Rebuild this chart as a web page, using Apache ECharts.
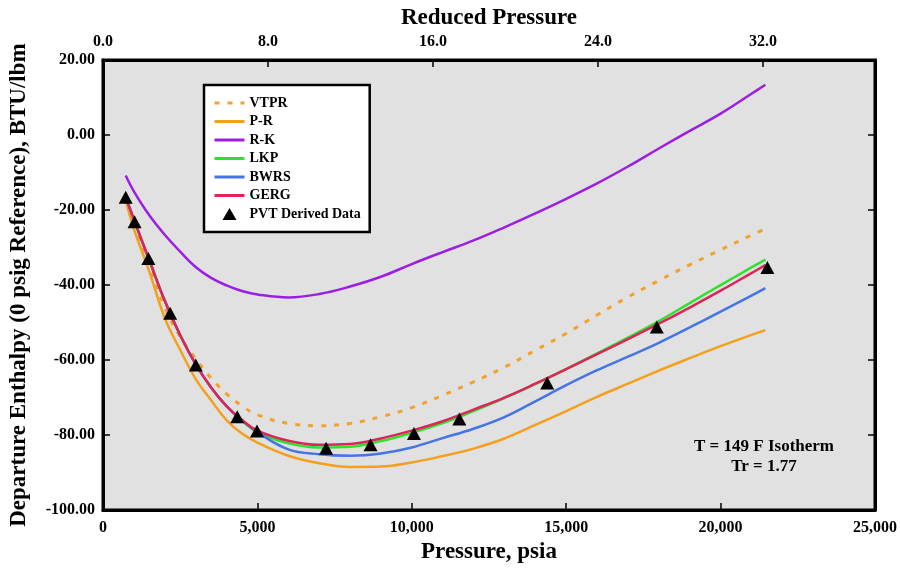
<!DOCTYPE html>
<html>
<head>
<meta charset="utf-8">
<script src="https://cdn.jsdelivr.net/npm/echarts@6/dist/echarts.min.js"></script>
<style>
html,body{margin:0;padding:0;background:#fff;}
#chart{width:900px;height:569px;}
</style>
</head>
<body>
<div id="chart"></div>
<script>
// Pressure grid (psia) for the model curves
const pressure = [735, 1000, 1500, 2000, 2500, 3000, 3500, 4000, 4500, 5000, 6000, 7000, 8000, 9000, 10000, 11000, 12000, 13000, 14000, 15000, 16000, 17000, 18000, 19000, 20000, 21000, 21450];
// Departure enthalpy (BTU/lbm) for each equation of state
const vtpr = [-17.0, -24.0, -35.0, -46.0, -53.8, -59.6, -64.8, -69.0, -72.2, -74.6, -76.9, -77.5, -76.9, -75.1, -72.7, -69.4, -65.8, -61.9, -57.4, -52.9, -48.0, -43.2, -38.8, -34.6, -30.6, -26.7, -25.0];
const pr   = [-17.3, -25.0, -36.4, -48.8, -57.3, -65.0, -70.7, -76.0, -79.6, -82.0, -85.5, -87.5, -88.5, -88.4, -87.3, -85.6, -83.6, -80.9, -77.3, -73.6, -69.8, -66.3, -62.8, -59.5, -56.3, -53.3, -52.0];
const rk   = [-10.8, -15.0, -21.4, -26.6, -31.1, -35.2, -38.1, -40.1, -41.6, -42.5, -43.3, -42.4, -40.4, -37.8, -34.4, -31.2, -28.1, -24.6, -20.9, -17.0, -12.9, -8.4, -3.6, 1.1, 5.7, 11.0, 13.4];
const lkp  = [-16.5, -22.5, -33.4, -44.2, -53.4, -61.1, -67.3, -72.3, -76.2, -79.2, -82.2, -83.3, -83.1, -81.6, -79.4, -76.8, -73.6, -70.1, -66.4, -62.4, -58.2, -54.0, -49.6, -44.8, -40.0, -35.3, -33.2];
const bwrs = [-16.5, -22.5, -33.4, -44.2, -53.4, -61.1, -67.3, -72.3, -76.0, -79.2, -83.8, -85.1, -85.5, -84.9, -83.3, -80.8, -78.3, -75.2, -71.0, -66.7, -62.7, -59.1, -55.4, -51.3, -47.1, -42.8, -40.8];
const gerg = [-16.5, -22.5, -33.4, -44.2, -53.4, -61.1, -67.3, -72.3, -76.0, -78.8, -81.5, -82.6, -82.4, -80.9, -78.8, -76.3, -73.2, -70.0, -66.3, -62.4, -58.4, -54.4, -50.3, -46.0, -41.5, -36.8, -34.7];
// PVT derived data points
const pvtP = [735, 1023, 1470, 2174, 3005, 4348, 4987, 7225, 8664, 10070, 11540, 14386, 17935, 21515];
const pvtH = [-16.6, -23.1, -32.9, -47.5, -61.3, -75.1, -78.9, -83.5, -82.6, -79.6, -75.7, -66.1, -51.2, -35.3];
// Axis settings
const criticalPressure = 667.8; // psia, reduced-pressure scale
const xTicks = {min: 0, max: 25000, interval: 5000};
const yTicks = {min: -100, max: 20, interval: 20};
const prTicks = {min: 0, interval: 8};

const FONT = 'Liberation Serif';
const pair = arr => pressure.map((p, i) => [p, arr[i]]);
const fmtComma = v => String(Math.round(v)).replace(/\B(?=(\d{3})+(?!\d))/g, ',');

const chart = echarts.init(document.getElementById('chart'));
const lbl = {fontFamily: FONT, fontWeight: 'bold', fontSize: 16, color: '#000'};
const nameStyle = {fontFamily: FONT, fontWeight: 'bold', fontSize: 23, color: '#000'};
const axLine = {show: true, onZero: false, lineStyle: {color: '#000', width: 3}};
const axTick = {show: true, inside: true, length: 7, lineStyle: {color: '#000', width: 1.5}};

function lineSeries(name, data, color, dashed) {
  return {
    name, type: 'line', data: pair(data), xAxisIndex: 0, yAxisIndex: 0,
    smooth: 0.4, symbol: 'none', showSymbol: false,
    lineStyle: {color, width: dashed ? 3 : 2.5, type: dashed ? [5, 8] : 'solid'},
    itemStyle: {color}, z: 3
  };
}

const lineNames = ['VTPR', 'P-R', 'R-K', 'LKP', 'BWRS', 'GERG'];
const legendData = lineNames.map(n => ({name: n, itemStyle: {opacity: 0}}));
legendData.push({name: 'PVT Derived Data', icon: 'path://M0,0 M30,12 M8,12 L15,0 L22,12 Z', itemStyle: {color: '#000', opacity: 1}});

const option = {
  backgroundColor: '#fff',
  animation: false,
  grid: {left: 101, right: 17, top: 60, bottom: 57, show: true, backgroundColor: '#e1e1e1', borderColor: '#000', borderWidth: 3},
  xAxis: [
    {type: 'value', position: 'bottom', min: xTicks.min, max: xTicks.max, interval: xTicks.interval,
     axisLine: axLine, axisTick: axTick, splitLine: {show: false},
     axisLabel: Object.assign({formatter: fmtComma, margin: 10}, lbl),
     name: 'Pressure, psia', nameLocation: 'middle', nameGap: 30, nameTextStyle: nameStyle},
    {type: 'value', position: 'top', min: prTicks.min, max: xTicks.max / criticalPressure, interval: prTicks.interval,
     axisLine: axLine, axisTick: axTick, splitLine: {show: false},
     axisLabel: Object.assign({formatter: v => v.toFixed(1), margin: 10, showMaxLabel: false}, lbl),
     name: 'Reduced Pressure', nameLocation: 'middle', nameGap: 30, nameTextStyle: nameStyle}
  ],
  yAxis: [
    {type: 'value', position: 'left', min: yTicks.min, max: yTicks.max, interval: yTicks.interval,
     axisLine: axLine, axisTick: axTick, splitLine: {show: false},
     axisLabel: Object.assign({formatter: v => v.toFixed(2), margin: 8}, lbl),
     name: 'Departure Enthalpy (0 psig Reference), BTU/lbm', nameLocation: 'middle', nameGap: 72, nameTextStyle: nameStyle},
    {type: 'value', position: 'right', min: yTicks.min, max: yTicks.max, interval: yTicks.interval,
     axisLine: axLine, axisTick: axTick, splitLine: {show: false}, axisLabel: {show: false}}
  ],
  legend: {
    orient: 'vertical', left: 204, top: 85, padding: [11, 9, 11, 9],
    backgroundColor: '#fff', borderColor: '#000', borderWidth: 2.5,
    itemWidth: 30, itemHeight: 12, itemGap: 4.5, itemTextGap: 7,
    lineStyle: {width: 3},
    textStyle: {fontFamily: FONT, fontWeight: 'bold', fontSize: 14, color: '#000'},
    data: legendData
  },
  series: [
    lineSeries('VTPR', vtpr, '#f2a22a', true),
    lineSeries('P-R', pr, '#f5a01c', false),
    lineSeries('R-K', rk, '#9b1fe3', false),
    lineSeries('LKP', lkp, '#2fe12f', false),
    lineSeries('BWRS', bwrs, '#4474e6', false),
    lineSeries('GERG', gerg, '#de2459', false),
    {name: 'PVT Derived Data', type: 'scatter', xAxisIndex: 0, yAxisIndex: 0,
     data: pvtP.map((p, i) => [p, pvtH[i]]), symbol: 'triangle', symbolSize: [14, 13], symbolKeepAspect: true,
     itemStyle: {color: '#000', opacity: 1}, z: 5}
  ],
  graphic: [
    {type: 'text', x: 764, y: 447, style: {text: 'T = 149 F Isotherm', align: 'center', verticalAlign: 'middle', font: 'bold 17px "Liberation Serif"', fill: '#000'}},
    {type: 'text', x: 764, y: 467, style: {text: 'Tr = 1.77', align: 'center', verticalAlign: 'middle', font: 'bold 17px "Liberation Serif"', fill: '#000'}}
  ]
};
chart.setOption(option);
</script>
</body>
</html>
